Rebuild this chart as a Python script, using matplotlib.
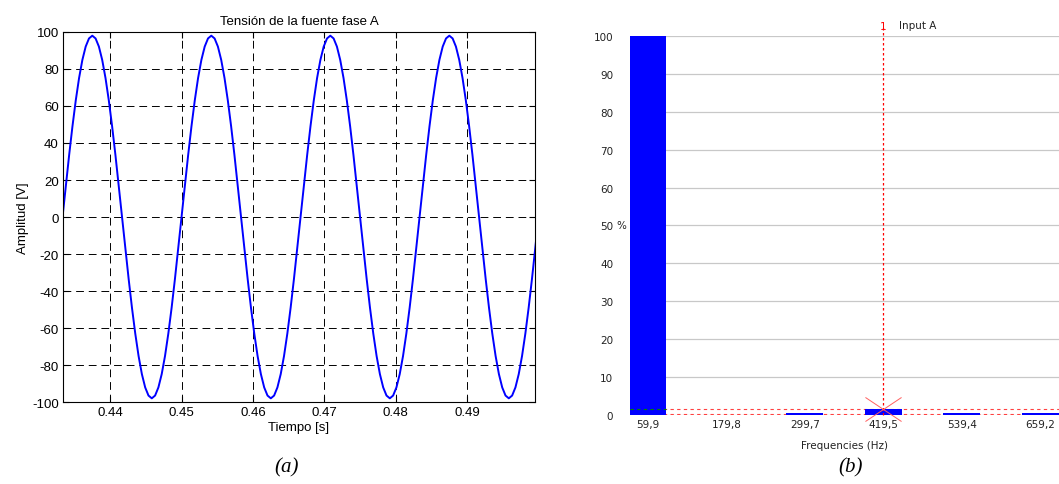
import numpy as np
import matplotlib.pyplot as plt
from matplotlib.path import Path

plt.rcParams['axes.unicode_minus'] = False

# ---- data (a): source voltage, phase A, 36 samples per 60 Hz cycle
t_start, t_end = 26 / 60, 0.5
va = [0, 17.0, 33.5, 49.0, 63.0, 75.1, 84.9, 92.1, 96.5, 98.0, 96.5, 92.1, 84.9, 75.1, 63.0, 49.0, 33.5, 17.0,
      0, -17.0, -33.5, -49.0, -63.0, -75.1, -84.9, -92.1, -96.5, -98.0, -96.5, -92.1, -84.9, -75.1, -63.0, -49.0, -33.5, -17.0,
      0, 17.0, 33.5, 49.0, 63.0, 75.1, 84.9, 92.1, 96.5, 98.0, 96.5, 92.1, 84.9, 75.1, 63.0, 49.0, 33.5, 17.0,
      0, -17.0, -33.5, -49.0, -63.0, -75.1, -84.9, -92.1, -96.5, -98.0, -96.5, -92.1, -84.9, -75.1, -63.0, -49.0, -33.5, -17.0,
      0, 17.0, 33.5, 49.0, 63.0, 75.1, 84.9, 92.1, 96.5, 98.0, 96.5, 92.1, 84.9, 75.1, 63.0, 49.0, 33.5, 17.0,
      0, -17.0, -33.5, -49.0, -63.0, -75.1, -84.9, -92.1, -96.5, -98.0, -96.5, -92.1, -84.9, -75.1, -63.0, -49.0, -33.5, -17.0,
      0, 17.0, 33.5, 49.0, 63.0, 75.1, 84.9, 92.1, 96.5, 98.0, 96.5, 92.1, 84.9, 75.1, 63.0, 49.0, 33.5, 17.0,
      0, -17.0, -33.5, -49.0, -63.0, -75.1, -84.9, -92.1, -96.5, -98.0, -96.5, -92.1, -84.9, -75.1, -63.0, -49.0, -33.5, -17.0,
      0]
t = np.linspace(t_start, t_end, len(va))

# ---- data (b): harmonic spectrum (% of fundamental)
freqs = [59.9, 119.9, 179.8, 239.7, 299.7, 359.6, 419.5, 479.5, 539.4, 599.3, 659.2]
pct = [100, 0.05, 0.1, 0.05, 0.6, 0.05, 1.6, 0.05, 0.4, 0.05, 0.4]
tick_freqs = [59.9, 179.8, 299.7, 419.5, 539.4, 659.2]
tick_labels = ['59,9', '179,8', '299,7', '419,5', '539,4', '659,2']
cursor_f, cursor_pct = 419.5, 1.6

fig = plt.figure(figsize=(10.59, 4.85), dpi=100)

# ---------- (a)
ax1 = fig.add_axes([0.0595, 0.169, 0.4457, 0.763])
ax1.plot(t, va, color='#0000ff', lw=1.4)
ax1.set_xlim(0.4334, 0.4995)
ax1.set_ylim(-100, 100)
ax1.set_yticks(np.arange(-100, 101, 20))
ax1.set_xticks([0.44, 0.45, 0.46, 0.47, 0.48, 0.49])
ax1.grid(True, color='black', linestyle=(0, (8, 5)), lw=0.7)
ax1.tick_params(direction='in', top=True, right=True, length=4, labelsize=9.5, pad=3)
for lab in ax1.get_xticklabels() + ax1.get_yticklabels():
    lab.set_family('Liberation Sans')
for s in ax1.spines.values():
    s.set_linewidth(0.8)
ax1.set_title('Tensión de la fuente fase A', fontsize=9.5, family='Liberation Sans', pad=6)
ax1.set_xlabel('Tiempo [s]', fontsize=9.5, family='Liberation Sans', labelpad=2)
ax1.set_ylabel('Amplitud [V]', fontsize=9.5, family='Liberation Sans', labelpad=2)

# ---------- (b)
bar_w = 56.5
ax2 = fig.add_axes([0.5949, 0.1423, 0.4051, 0.7814])
ax2.set_axisbelow(True)
ax2.bar(freqs, pct, width=bar_w, color='#0000ff', zorder=2)
ax2.set_xlim(32.4, 688.2)
ax2.set_ylim(0, 100)
ax2.set_yticks(np.arange(0, 101, 10))
ax2.set_xticks(tick_freqs)
ax2.set_xticklabels(tick_labels)
ax2.yaxis.grid(True, color='#c8c8c8', lw=0.9)
for s in ax2.spines.values():
    s.set_visible(False)
ax2.tick_params(length=0, labelsize=7.5, colors='#222222')
ax2.tick_params(axis='y', pad=12)
ax2.tick_params(axis='x', pad=3)
ax2.annotate('%', xy=(0, 50), xycoords=('axes fraction', 'data'), xytext=(-6, 0),
             textcoords='offset points', ha='center', va='center', fontsize=7.5, color='#222222')
ax2.set_xlabel('Frequencies (Hz)', fontsize=7.5, color='#222222', labelpad=8)

# cursor lines
ax2.axhline(cursor_pct, color='#ff4040', ls=(0, (3, 3)), lw=0.8, zorder=1)
ax2.hlines(cursor_pct, freqs[0] - bar_w / 2, freqs[0] + bar_w / 2, color='#008000', ls=(0, (3, 3)), lw=0.8, zorder=3)
ax2.axhline(0.15, color='#ff4040', ls=(0, (3, 3)), lw=0.8, zorder=1)
ax2.plot([cursor_f, cursor_f], [0, 103], color='#ff0000', ls=(0, (2, 2)), lw=0.9, clip_on=False, zorder=4)
xmark = Path([(-1.5, -1), (1.5, 1), (-1.5, 1), (1.5, -1)],
             [Path.MOVETO, Path.LINETO, Path.MOVETO, Path.LINETO])
ax2.plot(cursor_f, cursor_pct, marker=xmark, markersize=26, mec='#ff6060', mew=0.7, ls='none',
         clip_on=False, zorder=5)
ax2.text(cursor_f, 101.2, '1', color='#ff0000', fontsize=7.5, ha='center', va='bottom')
ax2.text(cursor_f + 24, 101.5, 'Input A', color='#222222', fontsize=7.5, ha='left', va='bottom')

# captions
fig.text(287 / 1059, 1 - 468 / 485, '(a)', fontsize=15, style='italic', family='Liberation Serif',
         ha='center', va='center')
fig.text(851 / 1059, 1 - 468 / 485, '(b)', fontsize=15, style='italic', family='Liberation Serif',
         ha='center', va='center')

fig.savefig('out.png', dpi=100)
